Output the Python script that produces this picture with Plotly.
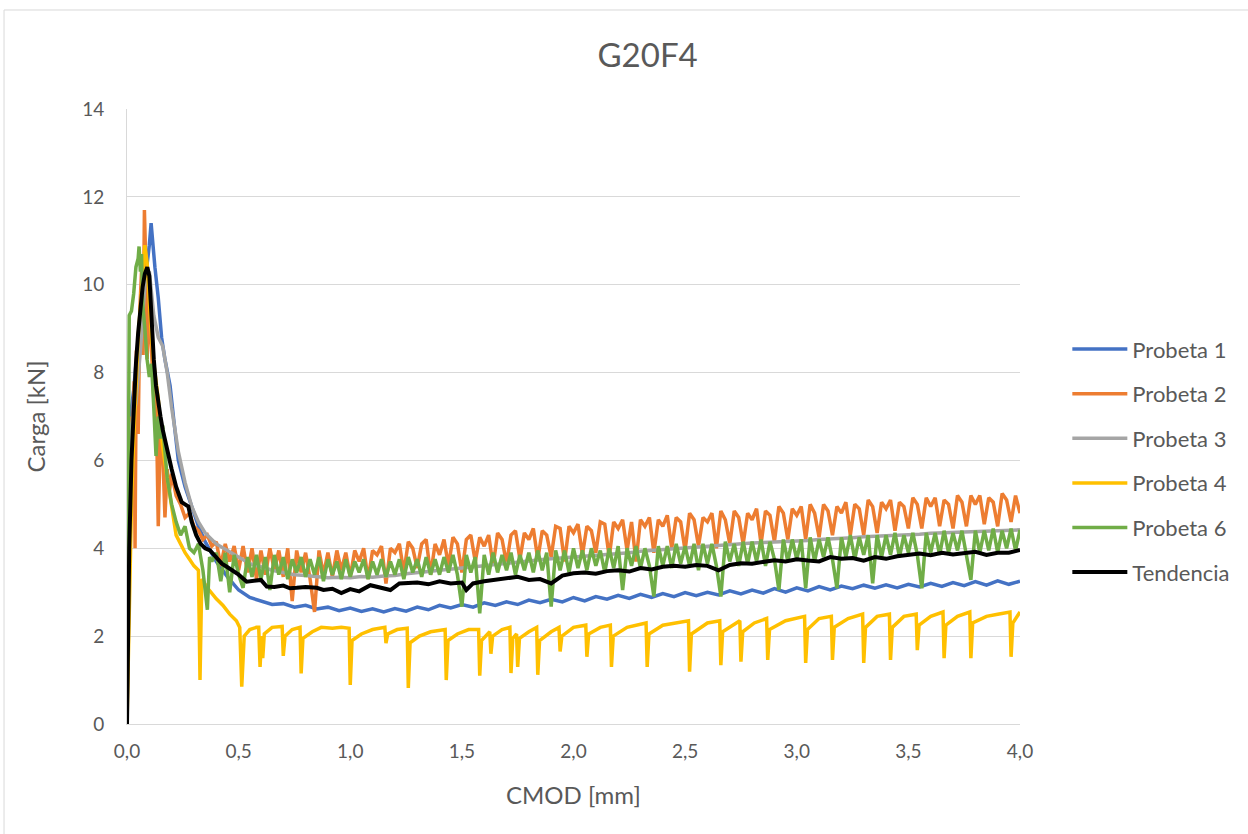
import plotly.graph_objects as go

# ---------------- data ----------------
series_names = ["Probeta 1", "Probeta 2", "Probeta 3", "Probeta 4", "Probeta 6", "Tendencia"]
series_colors = ["#4472C4", "#ED7D31", "#A5A5A5", "#FFC000", "#70AD47", "#000000"]

x_ticks = [0.0, 0.5, 1.0, 1.5, 2.0, 2.5, 3.0, 3.5, 4.0]
y_ticks = [0, 2, 4, 6, 8, 10, 12, 14]

# CMOD sampling grids for the post-peak plateau
cmod_fine = [
    0.40, 0.42, 0.44, 0.46, 0.48, 0.50, 0.52, 0.54, 0.56, 0.58,
    0.60, 0.62, 0.64, 0.66, 0.68, 0.70, 0.72, 0.74, 0.76, 0.78,
    0.80, 0.82, 0.84, 0.86, 0.88, 0.90, 0.92, 0.94, 0.96, 0.98,
    1.00, 1.02, 1.04, 1.06, 1.08, 1.10, 1.12, 1.14, 1.16, 1.18,
    1.20, 1.22, 1.24, 1.26, 1.28, 1.30, 1.32, 1.34, 1.36, 1.38,
    1.40, 1.42, 1.44, 1.46, 1.48, 1.50, 1.52, 1.54, 1.56, 1.58,
    1.60, 1.62, 1.64, 1.66, 1.68, 1.70, 1.72, 1.74, 1.76, 1.78,
    1.80, 1.82, 1.84, 1.86, 1.88, 1.90, 1.92, 1.94, 1.96, 1.98,
    2.00, 2.02, 2.04, 2.06, 2.08, 2.10, 2.12, 2.14, 2.16, 2.18,
    2.20, 2.22, 2.24, 2.26, 2.28, 2.30, 2.32, 2.34, 2.36, 2.38,
    2.40, 2.42, 2.44, 2.46, 2.48, 2.50, 2.52, 2.54, 2.56, 2.58,
    2.60, 2.62, 2.64, 2.66, 2.68, 2.70, 2.72, 2.74, 2.76, 2.78,
    2.80, 2.82, 2.84, 2.86, 2.88, 2.90, 2.92, 2.94, 2.96, 2.98,
    3.00, 3.02, 3.04, 3.06, 3.08, 3.10, 3.12, 3.14, 3.16, 3.18,
    3.20, 3.22, 3.24, 3.26, 3.28, 3.30, 3.32, 3.34, 3.36, 3.38,
    3.40, 3.42, 3.44, 3.46, 3.48, 3.50, 3.52, 3.54, 3.56, 3.58,
    3.60, 3.62, 3.64, 3.66, 3.68, 3.70, 3.72, 3.74, 3.76, 3.78,
    3.80, 3.82, 3.84, 3.86, 3.88, 3.90, 3.92, 3.94, 3.96, 3.98,
    4.00,
]
cmod_coarse = [
    0.40, 0.45, 0.50, 0.55, 0.60, 0.65, 0.70, 0.75, 0.80, 0.85,
    0.90, 0.95, 1.00, 1.05, 1.10, 1.15, 1.20, 1.25, 1.30, 1.35,
    1.40, 1.45, 1.50, 1.55, 1.60, 1.65, 1.70, 1.75, 1.80, 1.85,
    1.90, 1.95, 2.00, 2.05, 2.10, 2.15, 2.20, 2.25, 2.30, 2.35,
    2.40, 2.45, 2.50, 2.55, 2.60, 2.65, 2.70, 2.75, 2.80, 2.85,
    2.90, 2.95, 3.00, 3.05, 3.10, 3.15, 3.20, 3.25, 3.30, 3.35,
    3.40, 3.45, 3.50, 3.55, 3.60, 3.65, 3.70, 3.75, 3.80, 3.85,
    3.90, 3.95, 4.00,
]

# Probeta 1 (blue)
p1_x_peak = [0, 0.005, 0.012, 0.02, 0.03, 0.04, 0.05, 0.06, 0.07, 0.08, 0.09, 0.1, 0.108,
             0.115, 0.125, 0.14, 0.155, 0.17, 0.193, 0.21, 0.23, 0.26, 0.29, 0.32, 0.35, 0.38]
p1_y_peak = [0, 3.5, 5.8, 7.2, 7.6, 8.2, 8.8, 9.2, 9.6, 10.0, 10.4, 10.9, 11.4,
             10.9, 10.4, 9.7, 8.8, 8.3, 7.7, 6.9, 6.0, 5.4, 4.95, 4.5, 4.15, 3.9]
p1_y_tail = [
    3.7, 3.35, 3.05, 2.88, 2.8, 2.72, 2.74, 2.66, 2.7, 2.62,
    2.66, 2.58, 2.64, 2.56, 2.62, 2.55, 2.63, 2.57, 2.66, 2.6,
    2.7, 2.64, 2.72, 2.66, 2.76, 2.7, 2.78, 2.72, 2.82, 2.76,
    2.84, 2.78, 2.88, 2.8, 2.9, 2.84, 2.93, 2.86, 2.95, 2.88,
    2.97, 2.9, 2.99, 2.92, 3.0, 2.94, 3.03, 2.96, 3.05, 2.98,
    3.08, 3.0, 3.1, 3.03, 3.13, 3.05, 3.14, 3.08, 3.16, 3.09,
    3.17, 3.1, 3.18, 3.12, 3.2, 3.13, 3.22, 3.15, 3.24, 3.16,
    3.26, 3.18, 3.25,
]

# Probeta 2 (orange)
p2_x_peak = [0, 0.008, 0.016, 0.024, 0.032, 0.036, 0.042, 0.05, 0.058, 0.066, 0.072, 0.078,
             0.084, 0.09, 0.1, 0.11, 0.12, 0.13, 0.14, 0.15, 0.16, 0.17, 0.18, 0.19, 0.2,
             0.22, 0.24, 0.26, 0.28, 0.3, 0.32, 0.34, 0.36, 0.38]
p2_y_peak = [0, 5.5, 7.0, 6.3, 7.8, 4.0, 8.5, 6.6, 9.5, 10.4, 8.4, 11.7,
             10.5, 8.3, 9.6, 8.6, 7.4, 7.6, 4.5, 6.8, 6.2, 4.7, 5.8, 5.3, 5.7,
             5.2, 5.0, 4.7, 4.8, 4.5, 4.4, 4.2, 4.3, 4.05]
p2_y_tail = [
    4.15, 3.6, 4.1, 3.7, 4.05, 3.5, 4.05, 3.45, 4.0, 3.3,
    3.95, 3.4, 4.0, 3.5, 3.95, 3.35, 4.0, 2.8, 3.95, 3.45,
    3.9, 3.3, 2.55, 3.95, 3.4, 3.9, 3.35, 3.95, 3.5, 3.9,
    3.35, 3.95, 3.7, 4.0, 3.3, 3.95, 3.85, 4.05, 3.2, 4.0,
    3.9, 4.1, 3.45, 4.15, 4.0, 3.55, 4.1, 4.2, 3.4, 4.1,
    3.85, 4.2, 3.6, 4.25, 4.1, 3.45, 4.2, 4.3, 3.7, 4.25,
    4.05, 4.3, 3.6, 4.35, 4.2, 3.65, 4.3, 4.4, 3.75, 4.35,
    4.2, 4.45, 3.75, 4.4, 4.3, 3.8, 4.5, 4.45, 3.7, 4.5,
    4.35, 4.55, 3.85, 4.5, 4.4, 3.9, 4.6, 4.55, 3.8, 4.6,
    4.45, 4.65, 3.95, 4.6, 3.7, 4.65, 4.5, 4.7, 3.9, 4.65,
    4.5, 4.75, 4.0, 4.7, 4.6, 3.95, 4.8, 4.65, 4.05, 4.7,
    4.6, 4.8, 4.0, 4.85, 4.65, 4.1, 4.85, 4.7, 4.1, 4.8,
    4.65, 4.9, 4.1, 4.85, 4.75, 4.15, 4.95, 4.8, 4.2, 4.9,
    4.75, 4.95, 4.2, 5.0, 4.8, 4.25, 5.0, 4.85, 4.3, 4.95,
    4.8, 5.05, 4.3, 5.0, 4.9, 4.3, 5.1, 4.95, 4.35, 5.05,
    4.9, 5.1, 4.4, 5.05, 4.95, 4.45, 5.15, 5.0, 4.45, 5.15,
    4.95, 5.15, 4.5, 5.1, 5.0, 4.45, 5.2, 5.05, 4.5, 5.2,
    5.0, 5.2, 4.55, 5.15, 5.05, 4.5, 5.25, 5.1, 4.6, 5.2,
    4.8,
]

# Probeta 3 (gray)
p3_x_peak = [0, 0.01, 0.02, 0.04, 0.06, 0.08, 0.1, 0.12, 0.14, 0.16, 0.18, 0.2,
             0.23, 0.26, 0.29, 0.32, 0.35, 0.38]
p3_y_peak = [0, 5.5, 6.8, 7.3, 8.5, 10.0, 10.3, 9.3, 8.8, 8.6, 8.0, 7.2,
             6.2, 5.5, 4.95, 4.6, 4.35, 4.2]
p3_y_tail = [
    4.1, 3.95, 3.8, 3.65, 3.58, 3.5, 3.45, 3.4, 3.38, 3.35,
    3.33, 3.34, 3.33, 3.36, 3.34, 3.37, 3.38, 3.42, 3.44, 3.47,
    3.5, 3.52, 3.55, 3.58, 3.6, 3.63, 3.66, 3.69, 3.72, 3.74,
    3.76, 3.78, 3.8, 3.82, 3.83, 3.85, 3.87, 3.9, 3.93, 3.95,
    3.97, 3.99, 4.01, 4.03, 4.05, 4.07, 4.09, 4.1, 4.12, 4.13,
    4.14, 4.15, 4.16, 4.18, 4.2, 4.21, 4.23, 4.24, 4.26, 4.27,
    4.29, 4.3, 4.31, 4.32, 4.34, 4.35, 4.36, 4.37, 4.38, 4.39,
    4.4, 4.41, 4.42,
]

# Probeta 4 (yellow)
p4_x = [
    0, 0.01, 0.02, 0.03, 0.04, 0.05, 0.06, 0.07, 0.08, 0.09,
    0.1, 0.11, 0.12, 0.13, 0.14, 0.15, 0.16, 0.18, 0.2, 0.22,
    0.24, 0.26, 0.28, 0.3, 0.32, 0.327, 0.335, 0.36, 0.4, 0.43,
    0.46, 0.49, 0.505, 0.514, 0.525, 0.55, 0.58,
    0.59, 0.596, 0.603, 0.608, 0.615, 0.65, 0.695, 0.70, 0.708, 0.74,
    0.775, 0.78, 0.788, 0.83, 0.87, 0.92, 0.96, 0.995, 1.0, 1.008,
    1.05, 1.1, 1.155, 1.16, 1.168, 1.21, 1.255, 1.26, 1.268, 1.31,
    1.36, 1.425, 1.43, 1.438, 1.48, 1.53, 1.575, 1.58, 1.588, 1.625,
    1.63, 1.638, 1.68, 1.715, 1.72, 1.728, 1.745, 1.75, 1.758, 1.8,
    1.835, 1.84, 1.848, 1.9, 1.935, 1.94, 1.948, 2.0, 2.055, 2.06,
    2.068, 2.12, 2.165, 2.17, 2.178, 2.24, 2.325, 2.33, 2.338, 2.4,
    2.46, 2.515, 2.52, 2.528, 2.6, 2.655, 2.66, 2.668, 2.745, 2.75,
    2.758, 2.81, 2.865, 2.87, 2.878, 2.95, 3.035, 3.04, 3.048, 3.1,
    3.155, 3.16, 3.168, 3.23, 3.295, 3.3, 3.308, 3.36, 3.415, 3.42,
    3.428, 3.48, 3.535, 3.54, 3.548, 3.6, 3.655, 3.66, 3.668, 3.72,
    3.775, 3.78, 3.788, 3.85, 3.9, 3.955, 3.96, 3.968, 4.0,
]
p4_y = [
    0, 2.5, 5.0, 6.5, 7.8, 8.8, 9.5, 10.3, 10.9, 10.5,
    9.6, 8.8, 8.2, 7.8, 7.4, 6.8, 6.3, 5.6, 4.9, 4.3,
    4.1, 3.9, 3.75, 3.6, 3.5, 1.0, 3.3, 3.1, 2.85, 2.7,
    2.5, 2.35, 2.2, 0.85, 2.0, 2.15, 2.2,
    2.2, 1.3, 2.0, 1.5, 2.05, 2.2, 2.22, 1.55, 2.0, 2.15,
    2.2, 1.15, 1.95, 2.1, 2.2, 2.18, 2.2, 2.18, 0.89, 1.9,
    2.05, 2.15, 2.2, 1.84, 2.05, 2.15, 2.18, 0.82, 1.85, 2.0,
    2.1, 2.15, 1.0, 1.9, 2.05, 2.15, 2.15, 1.1, 1.9, 2.1,
    1.6, 2.0, 2.15, 2.2, 1.16, 1.95, 2.05, 1.3, 1.95, 2.1,
    2.2, 1.12, 1.9, 2.1, 2.2, 1.65, 2.0, 2.2, 2.25, 1.53,
    2.05, 2.2, 2.25, 1.3, 2.0, 2.2, 2.3, 1.3, 2.05, 2.25,
    2.3, 2.35, 1.19, 2.05, 2.3, 2.35, 1.34, 2.1, 2.35, 1.42,
    2.1, 2.3, 2.4, 1.46, 2.15, 2.35, 2.45, 1.39, 2.15, 2.4,
    2.45, 1.46, 2.2, 2.4, 2.5, 1.39, 2.2, 2.45, 2.5, 1.46,
    2.2, 2.45, 2.5, 1.68, 2.25, 2.45, 2.55, 1.5, 2.25, 2.45,
    2.55, 1.5, 2.3, 2.45, 2.5, 2.55, 1.53, 2.3, 2.55,
]

# Probeta 6 (green)
p6_x_peak = [0, 0.005, 0.01, 0.02, 0.03, 0.04, 0.05, 0.054, 0.06, 0.065,
             0.07, 0.08, 0.09, 0.1, 0.11, 0.12, 0.13, 0.14, 0.15, 0.16,
             0.17, 0.18, 0.2, 0.22, 0.24, 0.26, 0.28, 0.3, 0.32, 0.34,
             0.36, 0.37, 0.38]
p6_y_peak = [0, 6.0, 9.3, 9.4, 9.8, 10.4, 10.6, 10.87, 10.3, 10.7,
             9.6, 9.0, 8.3, 7.9, 8.2, 7.2, 6.1, 7.0, 6.5, 6.8,
             6.2, 5.6, 5.0, 4.6, 4.3, 4.5, 4.0, 3.9, 4.1, 3.5,
             2.6, 3.8, 3.7]
p6_y_tail = [
    3.9, 3.25, 3.9, 3.0, 3.85, 3.4, 3.1, 3.8, 3.35, 3.85,
    3.3, 3.8, 3.05, 3.85, 3.4, 3.8, 3.3, 3.75, 3.45, 3.8,
    3.35, 3.75, 3.4, 3.8, 3.25, 3.75, 3.4, 3.7, 3.3, 3.75,
    3.35, 3.7, 3.45, 3.75, 3.3, 3.7, 3.4, 3.75, 3.35, 3.7,
    3.4, 3.75, 3.3, 3.8, 3.45, 3.75, 3.35, 3.8, 3.4, 3.75,
    3.4, 3.8, 3.45, 3.85, 3.4, 2.67, 3.85, 3.45, 3.8, 2.52,
    3.85, 3.4, 3.9, 3.45, 3.85, 3.5, 3.9, 3.4, 3.85, 3.5,
    3.9, 3.45, 3.95, 3.5, 3.9, 2.67, 3.95, 3.5, 3.95, 3.45,
    4.0, 3.55, 3.95, 3.5, 4.0, 3.6, 3.95, 3.45, 4.0, 3.55,
    4.05, 3.05, 4.0, 3.6, 4.05, 3.55, 4.0, 3.6, 2.9, 4.05,
    3.6, 4.05, 3.55, 4.1, 3.65, 4.05, 3.6, 4.1, 3.5, 4.1,
    3.65, 4.1, 3.6, 2.9, 4.15, 3.7, 4.1, 3.6, 4.15, 3.65,
    4.15, 3.7, 4.2, 3.6, 4.15, 3.75, 3.05, 4.2, 3.7, 4.2,
    3.75, 4.2, 3.09, 4.25, 3.7, 4.2, 3.8, 4.25, 3.75, 3.09,
    4.25, 3.8, 4.3, 3.75, 4.25, 3.85, 4.3, 3.2, 4.3, 3.8,
    4.3, 3.85, 4.35, 3.8, 4.3, 3.9, 4.35, 3.85, 3.09, 4.35,
    3.9, 4.35, 3.85, 4.4, 3.9, 4.35, 3.95, 4.4, 3.85, 3.28,
    4.4, 3.9, 4.4, 3.95, 4.45, 3.9, 4.4, 4.0, 4.45, 3.95,
    4.42,
]

# Tendencia (black)
tr_x = [
    0, 0.005, 0.01, 0.02, 0.03, 0.04, 0.05, 0.06, 0.07, 0.08,
    0.091, 0.1, 0.11, 0.12, 0.13, 0.14, 0.15, 0.16, 0.18, 0.2,
    0.22, 0.245, 0.26, 0.275, 0.29, 0.31, 0.33, 0.35, 0.372, 0.4,
    0.425, 0.447, 0.47, 0.5, 0.536, 0.56, 0.6, 0.626, 0.66, 0.7,
    0.73, 0.76, 0.8, 0.85, 0.88, 0.92, 0.96, 1.0, 1.04, 1.09,
    1.13, 1.18, 1.22, 1.25, 1.3, 1.35, 1.4, 1.45, 1.5, 1.52,
    1.55, 1.6, 1.65, 1.7, 1.75, 1.8, 1.85, 1.9, 1.95, 2.0,
    2.05, 2.1, 2.15, 2.2, 2.25, 2.3, 2.35, 2.4, 2.45, 2.5,
    2.55, 2.6, 2.65, 2.7, 2.75, 2.8, 2.85, 2.9, 2.95, 3.0,
    3.05, 3.1, 3.15, 3.2, 3.25, 3.3, 3.35, 3.4, 3.45, 3.5,
    3.55, 3.6, 3.65, 3.7, 3.75, 3.8, 3.85, 3.9, 3.95, 4.0,
]
tr_y = [
    0, 2.5, 4.0, 6.0, 7.3, 8.2, 8.9, 9.5, 9.95, 10.25,
    10.4, 10.2, 9.2, 8.3, 7.7, 7.3, 7.0, 6.7, 6.2, 5.8,
    5.4, 5.05, 5.0, 4.95, 4.6, 4.3, 4.1, 4.0, 3.95, 3.8,
    3.65, 3.58, 3.5, 3.4, 3.24, 3.25, 3.28, 3.13, 3.12, 3.15,
    3.09, 3.1, 3.12, 3.1, 3.05, 3.08, 2.98, 3.07, 3.02, 3.16,
    3.12, 3.05, 3.2, 3.2, 3.22, 3.18, 3.25, 3.2, 3.22, 3.05,
    3.2, 3.25, 3.28, 3.3, 3.35, 3.28, 3.3, 3.2, 3.38, 3.43,
    3.45, 3.42, 3.48, 3.5, 3.47, 3.55, 3.52, 3.58, 3.6, 3.58,
    3.62, 3.6, 3.5, 3.62, 3.66, 3.65, 3.7, 3.73, 3.7, 3.75,
    3.72, 3.7, 3.8, 3.76, 3.78, 3.72, 3.8, 3.76, 3.82, 3.84,
    3.88, 3.84, 3.9, 3.86, 3.9, 3.92, 3.85, 3.9, 3.9, 3.96,
]

# ---------------- figure ----------------
FONT = "Lato, 'Open Sans', sans-serif"
TXT = "#595959"

series_x = [p1_x_peak + cmod_coarse, p2_x_peak + cmod_fine, p3_x_peak + cmod_coarse,
            p4_x, p6_x_peak + cmod_fine, tr_x]
series_y = [p1_y_peak + p1_y_tail, p2_y_peak + p2_y_tail, p3_y_peak + p3_y_tail,
            p4_y, p6_y_peak + p6_y_tail, tr_y]
widths = [3.5, 3.5, 3.5, 3.5, 3.5, 4]

fig = go.Figure()
for i, name in enumerate(series_names):
    fig.add_trace(go.Scatter(
        x=series_x[i], y=series_y[i], name=name, mode="lines",
        legendgroup=name,
        line=dict(color=series_colors[i], width=widths[i]),
    ))

fig.update_layout(
    width=1248, height=834,
    margin=dict(l=127, r=228, t=109, b=110),
    paper_bgcolor="white", plot_bgcolor="white",
    separators=", ",
    font=dict(family=FONT, color=TXT, size=19),
    title=dict(text="G20F4", x=0.583, xref="paper", xanchor="center",
               y=0.934, yanchor="middle",
               font=dict(family=FONT, size=33, color=TXT)),
    showlegend=True,
    legend=dict(x=1.053, xanchor="left", y=0.428, yanchor="middle",
                font=dict(family=FONT, size=22, color=TXT),
                itemwidth=55, tracegroupgap=13, traceorder="grouped",
                bgcolor="rgba(0,0,0,0)"),
    xaxis=dict(range=[0, 4.0], tickvals=x_ticks, tickformat=".1f",
               showgrid=False, zeroline=False,
               showline=True, linecolor="#d9d9d9", linewidth=1,
               ticks="outside", ticklen=10, tickcolor="rgba(0,0,0,0)",
               tickfont=dict(family=FONT, size=19, color=TXT)),
    yaxis=dict(range=[0, 14], tickvals=y_ticks,
               showgrid=True, gridcolor="#d9d9d9", gridwidth=1,
               zeroline=False,
               showline=True, linecolor="#d9d9d9", linewidth=1,
               ticks="outside", ticklen=18, tickcolor="rgba(0,0,0,0)",
               tickfont=dict(family=FONT, size=19, color=TXT)),
    annotations=[
        dict(text="CMOD [mm]", xref="paper", yref="paper", x=0.5, y=-0.115,
             xanchor="center", yanchor="middle", showarrow=False,
             font=dict(family=FONT, size=24, color=TXT)),
        dict(text="Carga [kN]", xref="paper", yref="paper", x=-0.103, y=0.5,
             xanchor="center", yanchor="middle", showarrow=False, textangle=-90,
             font=dict(family=FONT, size=24, color=TXT)),
    ],
    shapes=[
        dict(type="rect", xref="paper", yref="paper",
             x0=-0.1377, x1=1.4, y0=-0.3, y1=1.161,
             line=dict(color="#d9d9d9", width=1), fillcolor="rgba(0,0,0,0)",
             layer="below"),
    ],
)

fig.write_html("out.html",
               config={"displayModeBar": False},
               post_script="document.body.style.margin='0';document.body.style.overflow='hidden';")
